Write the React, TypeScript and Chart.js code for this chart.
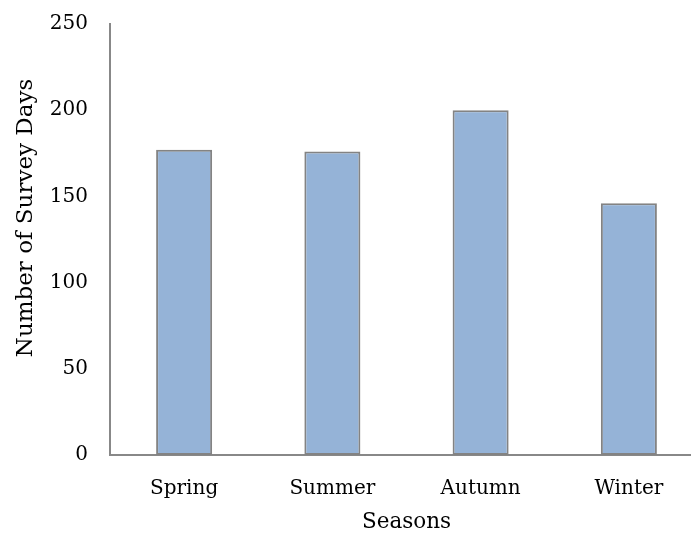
import React, { useEffect, useRef } from "react";
import { Chart, registerables } from "chart.js";

Chart.register(...registerables);

const categories = ["Spring", "Summer", "Autumn", "Winter"];
const surveyDays = [177, 176, 200, 146];
const yTicks = [0, 50, 100, 150, 200, 250];
const xTitle = "Seasons";
const yTitle = "Number of Survey Days";

const FONT = "'DejaVu Serif', serif";

const yTitlePlugin = {
  id: "yTitlePlugin",
  afterDraw(chart: any) {
    const ctx = chart.ctx;
    ctx.save();
    ctx.translate(26, 218);
    ctx.rotate(-Math.PI / 2);
    ctx.font = `23px ${FONT}`;
    ctx.fillStyle = "#000";
    ctx.textAlign = "center";
    ctx.textBaseline = "middle";
    ctx.fillText(yTitle, 0, 0);
    ctx.restore();
  },
};

export default function App() {
  const ref = useRef<HTMLCanvasElement | null>(null);
  useEffect(() => {
    if (!ref.current) return;
    const chart = new Chart(ref.current, {
      type: "bar",
      data: {
        labels: categories,
        datasets: [
          {
            data: surveyDays,
            backgroundColor: "#95B3D7",
            borderColor: "#838383",
            borderWidth: 2,
            borderSkipped: false,
            barPercentage: 0.378,
            categoryPercentage: 1,
          },
        ],
      },
      plugins: [yTitlePlugin],
      options: {
        animation: false,
        responsive: false,
        devicePixelRatio: 1,
        layout: { padding: { top: 24, right: 17, bottom: 0, left: 0 } },
        plugins: { legend: { display: false }, tooltip: { enabled: false } },
        scales: {
          x: {
            grid: { display: false, drawTicks: false },
            border: { display: true, color: "#888888", width: 2 },
            ticks: { color: "#000", font: { family: FONT, size: 20 }, padding: 22 },
            title: {
              display: true,
              text: xTitle,
              color: "#000",
              font: { family: FONT, size: 21.5, lineHeight: 1 },
              padding: { top: 0, bottom: 0 },
            },
            afterFit: (s: any) => {
              s.height = 78;
            },
          },
          y: {
            min: 0,
            max: 250,
            grid: { display: false, drawTicks: false },
            border: { display: true, color: "#888888", width: 2 },
            afterBuildTicks: (s: any) => {
              s.ticks = yTicks.map((v) => ({ value: v }));
            },
            ticks: { color: "#000", font: { family: FONT, size: 20 }, padding: 22 },
            title: { display: false },
            afterFit: (s: any) => {
              s.width = 110;
              s.paddingTop = 4;
              s.paddingBottom = 4;
            },
          },
        },
      },
    });
    return () => chart.destroy();
  }, []);
  return (
    <div
      style={{
        position: "fixed",
        left: 0,
        top: 0,
        width: 691,
        height: 533,
        overflow: "hidden",
        background: "#fff",
      }}
    >
      <canvas ref={ref} width={720} height={533} style={{ width: 720, height: 533 }} />
    </div>
  );
}
